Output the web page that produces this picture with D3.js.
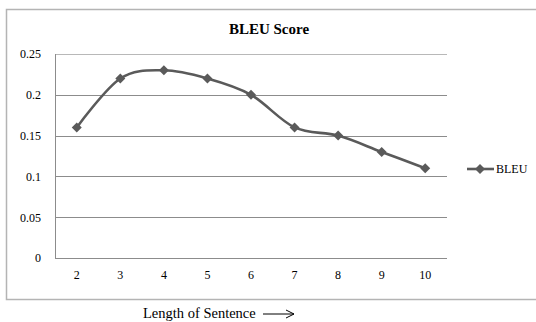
<!DOCTYPE html>
<html><head><meta charset="utf-8">
<script src="https://cdn.jsdelivr.net/npm/d3@7"></script>
<style>body{margin:0;background:#fff}svg{display:block}</style>
</head><body>
<script>
const categories = ["2","3","4","5","6","7","8","9","10"];
const bleu = [0.16,0.22,0.23,0.22,0.20,0.16,0.15,0.13,0.11];
const yTicks = [0,0.05,0.1,0.15,0.2,0.25];
const yTickLabels = ["0","0.05","0.1","0.15","0.2","0.25"];
const seriesName = "BLEU";
const title = "BLEU Score";
const xTitle = "Length of Sentence";

const W=536,H=322;
const svg=d3.select("body").append("svg").attr("width",W).attr("height",H);
const font="'Liberation Serif','Times New Roman',serif";
// outer frame
svg.append("rect").attr("x",6.5).attr("y",9.5).attr("width",540).attr("height",290)
  .attr("fill","none").attr("stroke","#b4b4b4").attr("stroke-width",1.5);

const L=55,R=447,T=54,B=258;
const x=d3.scaleBand().domain(categories).range([L,R]);
const y=d3.scaleLinear().domain([0,0.25]).range([B,T]);
const g=svg.append("g");
g.selectAll("line.grid").data(yTicks).join("line")
  .attr("x1",L).attr("x2",R).attr("y1",d=>Math.round(y(d))+0.5).attr("y2",d=>Math.round(y(d))+0.5)
  .attr("stroke",(d,i)=>i===yTicks.length-1?"#b8b8b8":"#8c8c8c").attr("stroke-width",1);
g.append("line").attr("x1",L+0.5).attr("x2",L+0.5).attr("y1",T).attr("y2",B).attr("stroke","#8c8c8c");

const yAxis=d3.axisLeft(y).tickValues(yTicks).tickFormat((d,i)=>yTickLabels[i]).tickSize(0).tickPadding(14);
const ya=svg.append("g").attr("transform",`translate(${L},0)`).call(yAxis);
ya.select(".domain").remove();
ya.selectAll("text").attr("font-family",font).attr("font-size",12).attr("fill","#000");
const xAxis=d3.axisBottom(x).tickSize(0).tickPadding(12);
const xa=svg.append("g").attr("transform",`translate(0,${B})`).call(xAxis);
xa.select(".domain").remove();
xa.selectAll("text").attr("font-family",font).attr("font-size",12).attr("fill","#000");

const px=(d,i)=>x(categories[i])+x.bandwidth()/2;
const line=d3.line().x((d,i)=>px(d,i)).y(d=>y(d)).curve(d3.curveCardinal.tension(0));
svg.append("path").datum(bleu).attr("d",line).attr("fill","none").attr("stroke","#5a5a5a").attr("stroke-width",2.6);
const dia="M0,-5L5,0L0,5L-5,0Z";
svg.selectAll("path.m").data(bleu).join("path").attr("class","m")
  .attr("d",dia).attr("transform",(d,i)=>`translate(${px(d,i)},${y(d)})`).attr("fill","#5a5a5a");

svg.append("text").attr("x",269).attr("y",34).attr("text-anchor","middle").attr("font-family",font)
  .attr("font-weight","bold").attr("font-size",15).text(title);
svg.append("line").attr("x1",467).attr("x2",494).attr("y1",169).attr("y2",169).attr("stroke","#5a5a5a").attr("stroke-width",2.6);
svg.append("path").attr("d",dia).attr("transform","translate(480,169)").attr("fill","#5a5a5a");
svg.append("text").attr("x",496).attr("y",173).attr("font-family",font).attr("font-size",12).text(seriesName);
svg.append("text").attr("x",143).attr("y",318).attr("font-family",font).attr("font-size",14.5).text(xTitle);
const ax=svg.append("g");
ax.append("line").attr("x1",263).attr("x2",294).attr("y1",314).attr("y2",314).attr("stroke","#000").attr("stroke-width",1);
ax.append("path").attr("d","M286,310 L294,314 L286,318").attr("fill","none").attr("stroke","#000").attr("stroke-width",1);
</script>
</body></html>
